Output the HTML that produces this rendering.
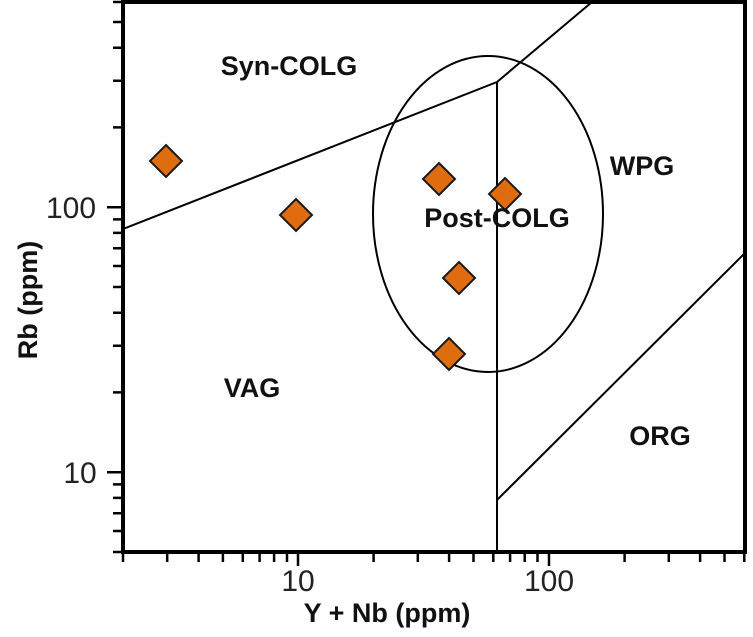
<!DOCTYPE html>
<html><head><style>
html,body{margin:0;padding:0;background:#fff;}
svg{display:block;}
text{font-family:"Liberation Sans",sans-serif;}
</style></head><body>
<svg width="753" height="637" viewBox="0 0 753 637" xmlns="http://www.w3.org/2000/svg">
<path stroke="#000" stroke-width="2.5" fill="none" d="M123 552v10M167.2 552v10M198.6 552v10M222.9 552v10M242.8 552v10M259.6 552v10M274.1 552v10M287 552v10M298 552v14M373.6 552v10M417.8 552v10M449.1 552v10M473.5 552v10M493.3 552v10M510.1 552v10M524.7 552v10M537.5 552v10M549 552v14M624.6 552v10M668.8 552v10M700.1 552v10M724.5 552v10M744.3 552v10M113 552h10M113 531h10M113 513.3h10M113 497.9h10M113 484.4h10M107 472.2h16M113 392.4h10M113 345.8h10M113 312.7h10M113 287h10M113 266h10M113 248.3h10M113 232.9h10M113 219.4h10M107 207.2h16M113 127.4h10M113 80.8h10M113 47.7h10M113 22h10M113 2h10"/>
<g fill="none" stroke="#000" stroke-width="2">
<line x1="123" y1="229" x2="497" y2="82"/>
<line x1="497" y1="82" x2="592" y2="2"/>
<line x1="497" y1="82" x2="497" y2="552"/>
<line x1="497" y1="500" x2="745" y2="253"/>
<ellipse cx="488" cy="214" rx="115" ry="158"/>
</g>
<rect x="123" y="2" width="622" height="550" fill="none" stroke="#000" stroke-width="4"/>
<g fill="#e06c10" stroke="#1a1a1a" stroke-width="2">
<polygon points="166,145 182,161 166,177 150,161"/>
<polygon points="296,199 312,215 296,231 280,215"/>
<polygon points="439,163 455,179 439,195 423,179"/>
<polygon points="505,178 521,194 505,210 489,194"/>
<polygon points="459,262 475,278 459,294 443,278"/>
<polygon points="449,338 465,354 449,370 433,354"/>
</g>
<g font-weight="bold" font-size="27" fill="#111" text-anchor="middle">
<text x="289" y="75">Syn-COLG</text>
<text x="642" y="175">WPG</text>
<text x="497" y="227">Post-COLG</text>
<text x="252" y="397">VAG</text>
<text x="660" y="445">ORG</text>
<text x="387" y="622">Y + Nb (ppm)</text>
<text transform="translate(37,300) rotate(-90)">Rb (ppm)</text>
</g>
<g font-size="30" fill="#222" text-anchor="middle">
<text x="298" y="591">10</text>
<text x="549" y="591">100</text>
<text x="71" y="218">100</text>
<text x="80" y="483">10</text>
</g>
</svg>
</body></html>
